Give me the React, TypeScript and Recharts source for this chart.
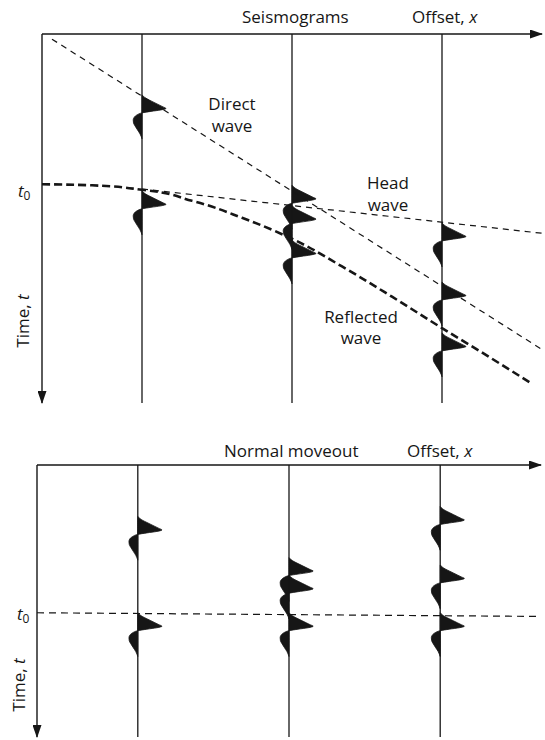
import { ComposedChart, XAxis, YAxis, Line, Area } from "recharts";

// offsets of the three seismometers (same in both panels)
const TRACE_OFFSETS = [2, 5, 8];

// one wavelet: time after onset and sideways swing
const WAVELET_DT = [0, 0.054, 0.108, 0.163, 0.217, 0.271, 0.325, 0.366, 0.407, 0.447, 0.488, 0.542, 0.596, 0.678, 0.759, 0.84, 0.949, 1.057, 1.19];
const WAVELET_AMP = [0, 0.04, 0.1, 0.18, 0.26, 0.34, 0.42, 0.48, 0.38, 0.18, 0, -0.1, -0.15, -0.176, -0.17, -0.14, -0.09, -0.04, 0];

// top panel: seismograms
const SEIS_ARRIVALS = [
  [1.65, 4.25],
  [4.1, 4.65, 5.58],
  [5.12, 6.72, 8.1],
];
const DIRECT_X = [0.2, 10];
const DIRECT_T = [0.14, 8.55];
const HEAD_X = [2, 10];
const HEAD_T = [4.2, 5.4];
const REFLECTED_X = [0, 1, 2, 3, 4, 5, 6, 7, 8, 9, 9.8];
const REFLECTED_T = [4.07, 4.1, 4.22, 4.52, 4.98, 5.55, 6.3, 7.12, 7.97, 8.8, 9.48];

// bottom panel: normal moveout
const NMO_ARRIVALS = [
  [1.4, 4.02],
  [2.52, 3.0, 4.02],
  [1.13, 2.72, 4.02],
];
const T0_X = [0, 10];
const T0_T = [4.02, 4.12];

const INK = "#161616";
const FONT = "'Open Sans', 'Noto Sans', sans-serif";

const toPoints = (xs: number[], ts: number[]) => xs.map((x, i) => ({ x, t: ts[i] }));

const waveletRows = (x: number, onset: number) =>
  WAVELET_DT.map((dt, i) => ({ t: onset + dt, range: [x, x + WAVELET_AMP[i]] }));

function traces(tMax: number, prefix: string) {
  return TRACE_OFFSETS.map((x) => (
    <Line
      key={`${prefix}-trace-${x}`}
      data={[{ x, t: 0 }, { x, t: tMax }]}
      dataKey="x"
      stroke={INK}
      strokeWidth={1.3}
      dot={false}
      activeDot={false}
      isAnimationActive={false}
    />
  ));
}

function wavelets(arrivals: number[][], prefix: string) {
  return arrivals.flatMap((onsets, i) =>
    onsets.map((onset, j) => (
      <Area
        key={`${prefix}-w-${i}-${j}`}
        data={waveletRows(TRACE_OFFSETS[i], onset)}
        dataKey="range"
        type="monotone"
        stroke={INK}
        strokeWidth={0.8}
        fill={INK}
        fillOpacity={1}
        dot={false}
        activeDot={false}
        isAnimationActive={false}
      />
    ))
  );
}

function dashed(key: string, xs: number[], ts: number[], width: number, dash: string, type: any = "linear") {
  return (
    <Line
      key={key}
      data={toPoints(xs, ts)}
      dataKey="x"
      type={type}
      stroke={INK}
      strokeWidth={width}
      strokeDasharray={dash}
      dot={false}
      activeDot={false}
      isAnimationActive={false}
    />
  );
}

function Arrow({ id }: { id: string }) {
  return (
    <defs>
      <marker id={id} viewBox="0 0 13 9" refX="12" refY="4.5" markerWidth="13" markerHeight="9" markerUnits="userSpaceOnUse" orient="auto">
        <path d="M0,0 L13,4.5 L0,9 Z" fill={INK} />
      </marker>
    </defs>
  );
}

function axes(tMax: number, markerId: string) {
  const line = { stroke: INK, strokeWidth: 1.4, markerEnd: `url(#${markerId})` };
  return [
    <XAxis key="x" type="number" dataKey="x" orientation="top" domain={[0, 10]} allowDataOverflow height={1} tick={false} tickLine={false} axisLine={line} />,
    <YAxis key="y" type="number" dataKey="t" domain={[0, tMax]} allowDataOverflow width={1} tick={false} tickLine={false} axisLine={line} />,
  ];
}

const textStyle = { fontFamily: FONT, fontSize: 17, fill: INK };

export default function App() {
  return (
    <div style={{ position: "absolute", left: 0, top: 0, width: 545, height: 740, background: "#fff" }}>
      <div style={{ position: "absolute", left: 0, top: 0 }}>
        <ComposedChart width={545} height={410} layout="vertical" margin={{ top: 33, right: 3, bottom: 7, left: 41 }}>
          <Arrow id="arrow-seis" />
          {axes(10, "arrow-seis")}
          {traces(10, "s")}
          {wavelets(SEIS_ARRIVALS, "s")}
          {dashed("direct", DIRECT_X, DIRECT_T, 1.2, "6 5")}
          {dashed("head", HEAD_X, HEAD_T, 1.2, "6 5")}
          {dashed("reflected", REFLECTED_X, REFLECTED_T, 2.6, "8 4", "monotone")}
          <text x={242} y={23} style={textStyle}>Seismograms</text>
          <text x={412} y={23} style={textStyle}>
            Offset, <tspan fontStyle="italic">x</tspan>
          </text>
          <text x={232} y={110} textAnchor="middle" style={textStyle}>Direct</text>
          <text x={232} y={132} textAnchor="middle" style={textStyle}>wave</text>
          <text x={388} y={189} textAnchor="middle" style={textStyle}>Head</text>
          <text x={388} y={211} textAnchor="middle" style={textStyle}>wave</text>
          <text x={361} y={323} textAnchor="middle" style={textStyle}>Reflected</text>
          <text x={361} y={344} textAnchor="middle" style={textStyle}>wave</text>
          <text x={18} y={197} style={textStyle}>
            <tspan fontStyle="italic">t</tspan>
            <tspan fontSize={12} dy={3}>0</tspan>
          </text>
          <text x={29} y={321} textAnchor="middle" transform="rotate(-90 29 321)" style={textStyle}>
            Time, <tspan fontStyle="italic">t</tspan>
          </text>
        </ComposedChart>
      </div>
      <div style={{ position: "absolute", left: 0, top: 430 }}>
        <ComposedChart width={545} height={310} layout="vertical" margin={{ top: 34, right: 4, bottom: 3, left: 36 }}>
          <Arrow id="arrow-nmo" />
          {axes(7.4, "arrow-nmo")}
          {traces(7.4, "n")}
          {wavelets(NMO_ARRIVALS, "n")}
          {dashed("t0", T0_X, T0_T, 1.2, "7 5")}
          <text x={224} y={27} style={textStyle}>Normal moveout</text>
          <text x={407} y={27} style={textStyle}>
            Offset, <tspan fontStyle="italic">x</tspan>
          </text>
          <text x={17} y={190} style={textStyle}>
            <tspan fontStyle="italic">t</tspan>
            <tspan fontSize={12} dy={3}>0</tspan>
          </text>
          <text x={25} y={255} textAnchor="middle" transform="rotate(-90 25 255)" style={textStyle}>
            Time, <tspan fontStyle="italic">t</tspan>
          </text>
        </ComposedChart>
      </div>
    </div>
  );
}
